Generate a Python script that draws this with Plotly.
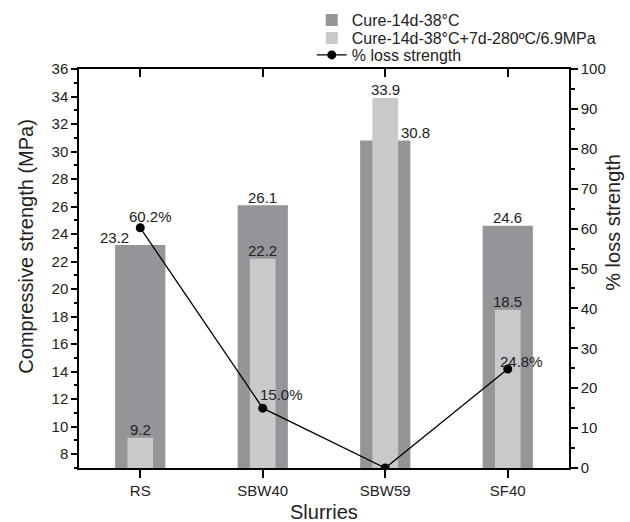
import plotly.graph_objects as go

categories = ["RS", "SBW40", "SBW59", "SF40"]
cure_14d = [23.2, 26.1, 30.8, 24.6]
cure_280 = [9.2, 22.2, 33.9, 18.5]
loss_pct = [60.2, 15.0, 0.0, 24.8]
loss_labels = ["60.2%", "15.0%", "", "24.8%"]

# label offsets (pixels) for annotations
dark_xshift = [-26, 0, 30, 0]
loss_shift = [(10, 11), (19, 14), (0, 0), (14, 8)]

DARK = "#939598"
LIGHT = "#c8c9cb"
FONT = "Liberation Sans, Arial, sans-serif"
TXT = "#222"

fig = go.Figure()
fig.add_trace(go.Bar(x=categories, y=cure_14d, width=0.41, marker_color=DARK,
                     marker_line_width=0, name="Cure-14d-38°C", legend="legend"))
fig.add_trace(go.Bar(x=categories, y=cure_280, width=0.21, marker_color=LIGHT,
                     marker_line_width=0, name="Cure-14d-38°C+7d-280ºC/6.9MPa",
                     legend="legend2"))
fig.add_trace(go.Scatter(x=categories, y=loss_pct, yaxis="y2", mode="lines+markers",
                         line=dict(color="black", width=1.3),
                         marker=dict(color="black", size=9),
                         name="% loss strength", legend="legend3"))
# invisible trace so the top (mirror) axis is drawn
fig.add_trace(go.Scatter(x=categories, y=[None]*4, xaxis="x2", showlegend=False,
                         hoverinfo="skip"))

ann = []
for c, v, xs in zip(categories, cure_14d, dark_xshift):
    ann.append(dict(x=c, y=v, xref="x", yref="y", text=f"{v:.1f}", showarrow=False,
                    xshift=xs, yshift=8, yanchor="middle", font=dict(size=15, color=TXT)))
for c, v in zip(categories, cure_280):
    ann.append(dict(x=c, y=v, xref="x", yref="y", text=f"{v:.1f}", showarrow=False,
                    yshift=8, yanchor="middle", font=dict(size=15, color=TXT)))
for c, v, t, (xs, ys) in zip(categories, loss_pct, loss_labels, loss_shift):
    if t:
        ann.append(dict(x=c, y=v, xref="x", yref="y2", text=t, showarrow=False,
                        xshift=xs, yshift=ys, yanchor="middle", font=dict(size=15, color=TXT)))
# axis titles
ann.append(dict(xref="paper", yref="paper", x=-0.11, y=0.555, text="Compressive strength (MPa)",
                textangle=-90, showarrow=False, xanchor="center", yanchor="middle",
                font=dict(size=20, color=TXT)))
ann.append(dict(xref="paper", yref="paper", x=1.088, y=0.615, text="% loss strength",
                textangle=-90, showarrow=False, xanchor="center", yanchor="middle",
                font=dict(size=20, color=TXT)))
ann.append(dict(xref="paper", yref="paper", x=0.5, y=-0.11, text="Slurries",
                showarrow=False, xanchor="center", yanchor="middle",
                font=dict(size=20, color=TXT)))

leg_common = dict(x=0.475, xanchor="left", yanchor="middle", font=dict(size=16, color=TXT),
                  bgcolor="rgba(0,0,0,0)", itemwidth=30)

fig.update_layout(
    width=630, height=522,
    margin=dict(l=79, r=61, t=69, b=54, autoexpand=False),
    paper_bgcolor="white", plot_bgcolor="white",
    font=dict(family=FONT, size=15, color=TXT),
    barmode="overlay",
    showlegend=True,
    legend=dict(y=1.1228, **leg_common),
    legend2=dict(y=1.0777, **leg_common),
    legend3=dict(y=1.0351, **leg_common),
    annotations=ann,
    xaxis=dict(range=[-0.5, 3.5], showline=True, linecolor="black", linewidth=1.5,
               ticks="outside", ticklen=8, tickcolor="black", tickwidth=1.5,
               automargin=False, tickfont=dict(size=15)),
    xaxis2=dict(overlaying="x", matches="x", side="top", anchor="y",
                range=[-0.5, 3.5], showline=True, linecolor="black", linewidth=1.5,
                ticks="inside", ticklen=8, tickcolor="black", tickwidth=1.5,
                showticklabels=False, showgrid=False, automargin=False),
    yaxis=dict(range=[7, 36], tick0=8, dtick=2, showline=True, linecolor="black",
               linewidth=1.5, ticks="outside", ticklen=6, tickcolor="black", tickwidth=1.5,
               showgrid=False, zeroline=False, automargin=False,
               minor=dict(dtick=1, tick0=7, ticks="outside", ticklen=3,
                          tickcolor="black", tickwidth=1.5),
               tickfont=dict(size=15)),
    yaxis2=dict(range=[0, 100], dtick=10, overlaying="y", side="right", showline=True,
                linecolor="black", linewidth=1.5, ticks="outside", ticklen=7,
                tickcolor="black", tickwidth=1.5, showgrid=False, zeroline=False,
                automargin=False,
                minor=dict(dtick=5, ticks="outside", ticklen=4,
                           tickcolor="black", tickwidth=1.5),
                tickfont=dict(size=15)),
)

fig.write_html("out.html")
